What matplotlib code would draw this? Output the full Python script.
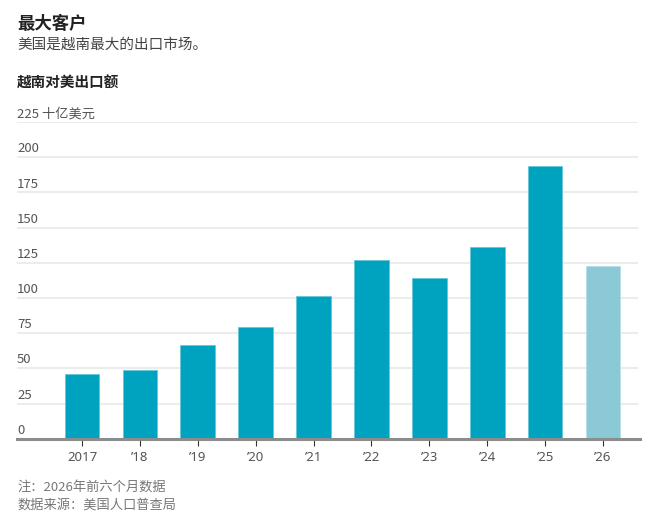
import matplotlib
matplotlib.use("Agg")
import matplotlib.pyplot as plt

plt.rcParams['font.family'] = ['Noto Sans CJK SC', 'DejaVu Sans']

years = ["2017", "’18", "’19", "’20", "’21", "’22", "’23", "’24", "’25", "’26"]
exports = [46.1, 48.9, 66.7, 79.6, 101.6, 127.3, 114.4, 136.5, 193.6, 123.0]
partial = [False] * 9 + [True]
yticks = [0, 25, 50, 75, 100, 125, 150, 175, 200, 225]

W, H = 658, 526
fig = plt.figure(figsize=(W / 100, H / 100), dpi=100)
fig.patch.set_facecolor("white")

x0, x1 = 17, 640
ytop, ybot = 122, 438.7
ax = fig.add_axes([x0 / W, 1 - ybot / H, (x1 - x0) / W, (ybot - ytop) / H])

step = (603 - 82) / 9
xs = list(range(len(years)))
colors = ["#8bc9d6" if p else "#00a3bf" for p in partial]
edges = ["#b7dfe7" if p else "#66c8d9" for p in partial]
ax.bar(xs, exports, width=0.6, color=colors, edgecolor=edges, linewidth=0.6, zorder=3)

ax.set_xlim((x0 - 82) / step, 9 + (x1 - 603) / step)
ax.set_ylim(0, 225)

for v in yticks[1:]:
    ax.axhline(v, color="#ececec", linewidth=1.5, zorder=1, xmax=(637 - x0) / (x1 - x0))
for v in yticks:
    lab = f"{v} 十亿美元" if v == 225 else str(v)
    ax.text(0, v + 1.3, lab, transform=ax.get_yaxis_transform(), ha="left", va="bottom",
            fontsize=9.5, color="#555555", zorder=4)

for s in ["top", "right", "left"]:
    ax.spines[s].set_visible(False)
ax.spines["bottom"].set_color("#8c8c8c")
ax.spines["bottom"].set_linewidth(2.2)
ax.spines["bottom"].set_zorder(5)
ax.set_yticks([])
ax.set_xticks(xs)
ax.set_xticklabels(years, fontsize=9.5, color="#555555", family=["Noto Sans", "DejaVu Sans"])
ax.tick_params(axis="x", length=5, width=0.8, color="#333333", pad=4, direction="out")

fig.text(17 / W, 1 - 24 / H, "最大客户", fontsize=12.5, fontweight="bold", color="#222222",
         ha="left", va="center")
fig.text(17 / W, 1 - 45 / H, "美国是越南最大的出口市场。", fontsize=10.5, color="#444444",
         ha="left", va="center")
fig.text(17 / W, 1 - 83 / H, "越南对美出口额", fontsize=10.5, fontweight="bold", color="#222222",
         ha="left", va="center")
fig.text(17 / W, 1 - 487 / H, "注：2026年前六个月数据", fontsize=9.5, color="#777777",
         ha="left", va="center")
fig.text(17 / W, 1 - 505 / H, "数据来源：美国人口普查局", fontsize=9.5, color="#777777",
         ha="left", va="center")

fig.savefig("out.png", dpi=100, facecolor="white")
